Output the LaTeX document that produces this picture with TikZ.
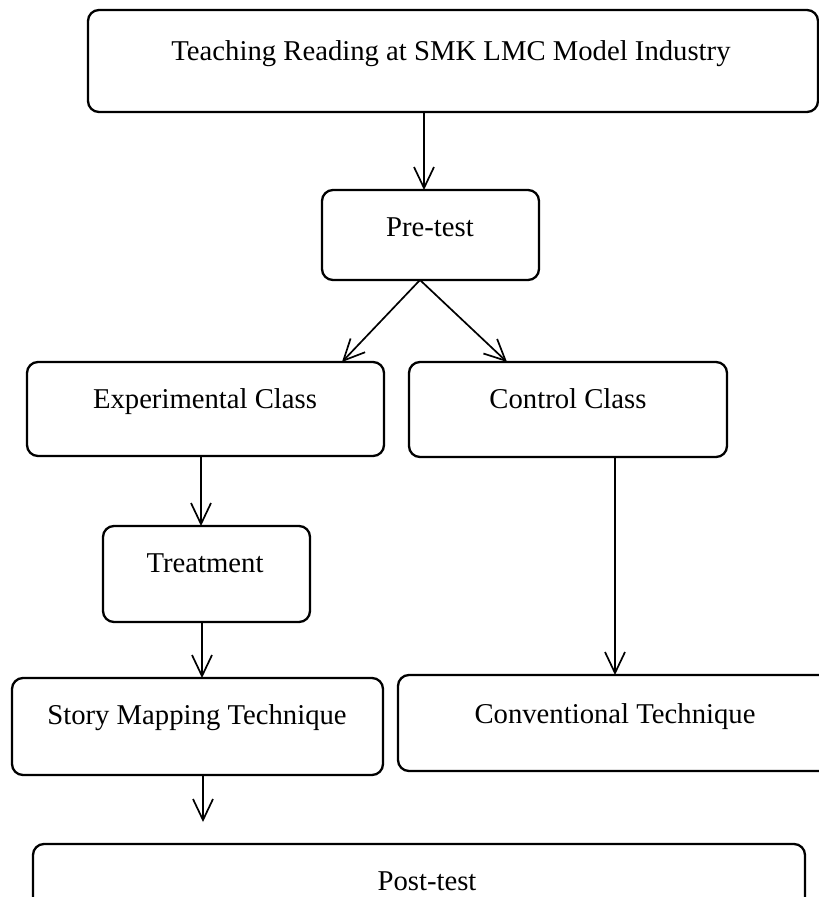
\documentclass[tikz,border=0pt]{standalone}
\usepackage{fontspec}
\setmainfont{Liberation Serif}
\usetikzlibrary{arrows.meta,calc}
\begin{document}
\begin{tikzpicture}[x=1pt,y=-1pt,
  boxst/.style={draw=black,line width=2.3pt,rounded corners=11pt},
  txt/.style={anchor=base,inner sep=0pt,font=\fontsize{28.7}{34}\selectfont},
  arr/.style={line width=1.7pt,-{Straight Barb[length=21pt,width=20pt,line width=1.7pt]}}]
\useasboundingbox (0,0) rectangle (819,897);
\begin{scope}
\clip (0,0) rectangle (819,897);
% boxes
\draw[boxst] (88,10) rectangle (818,112);
\draw[boxst] (322,190) rectangle (539,280);
\draw[boxst] (27,362) rectangle (384,456);
\draw[boxst] (409,362) rectangle (727,457);
\draw[boxst] (103,526) rectangle (310,622);
\draw[boxst] (12,678) rectangle (383,775);
\draw[boxst] (398,675) rectangle (870,771);
\draw[boxst] (33,844) rectangle (805,950);
\end{scope}
% named anchors of the boxes
\coordinate (topS) at (424,112);
\coordinate (preN) at (424,190);
\coordinate (preS) at (420,280);
\coordinate (expN) at (342,362);
\coordinate (ctlN) at (507,362);
\coordinate (expS) at (201,456);
\coordinate (trtN) at (201,526);
\coordinate (trtS) at (202,622);
\coordinate (storyN) at (202,678);
\coordinate (ctlS) at (615,457);
\coordinate (convN) at (615,675);
\coordinate (storyS) at (203,775);
\coordinate (storyend) at (203,822);
% texts
\node[txt] (ttop) at (451,60) {Teaching Reading at SMK LMC Model Industry};
\node[txt] (tpre) at (430,236) {Pre-test};
\node[txt] (texp) at (205,408) {Experimental Class};
\node[txt] (tctl) at (568,408) {Control Class};
\node[txt] (ttrt) at (205,572) {Treatment};
\node[txt] (tstory) at (197,724) {Story Mapping Technique};
\node[txt] (tconv) at (615,723) {Conventional Technique};
\node[txt] (tpost) at (427,890) {Post-test};
% arrows
\draw[arr] (topS) -- (preN);
\draw[arr] (preS) -- (expN);
\draw[arr] (preS) -- (ctlN);
\draw[arr] (expS) -- (trtN);
\draw[arr] (trtS) -- (storyN);
\draw[arr] (ctlS) -- (convN);
\draw[arr] (storyS) -- (storyend);
\end{tikzpicture}
\end{document}
